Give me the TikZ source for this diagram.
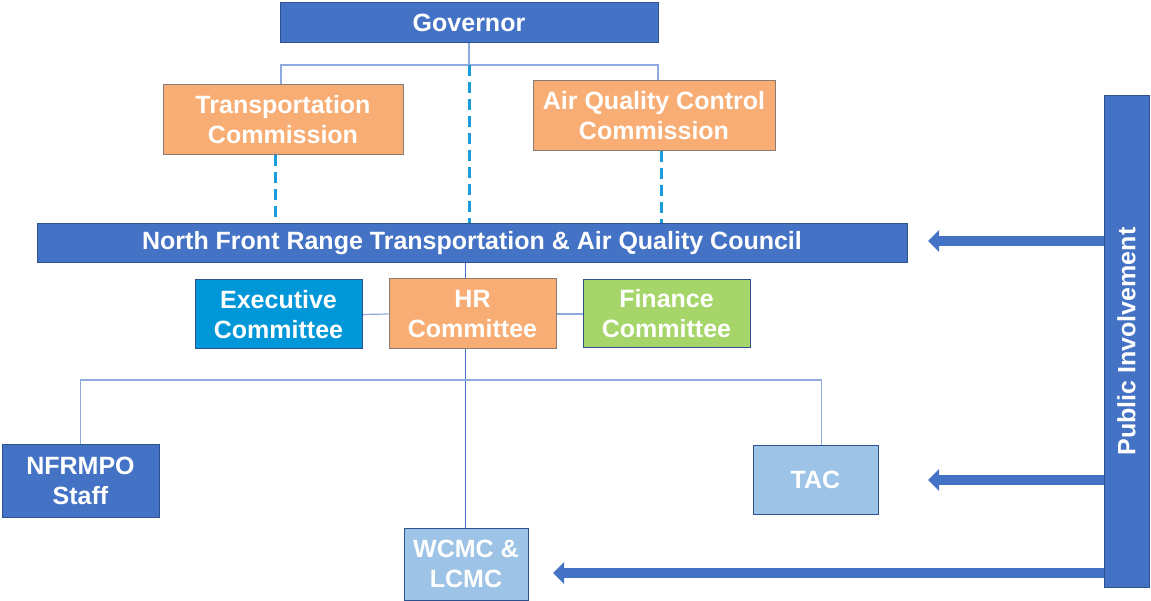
\documentclass[tikz,border=0pt]{standalone}
\usepackage{fontspec}
\setmainfont{Liberation Sans}
\usetikzlibrary{arrows.meta,positioning,calc,backgrounds}

\definecolor{darkblue}{HTML}{4472C4}
\definecolor{darkedge}{HTML}{2F528F}
\definecolor{orangefill}{HTML}{F8AD74}
\definecolor{orangeedge}{HTML}{8C7B70}
\definecolor{execblue}{HTML}{0097D8}
\definecolor{greenfill}{HTML}{A6D66A}
\definecolor{lightblue}{HTML}{9DC3E6}
\definecolor{dashblue}{HTML}{1A9CDB}
\definecolor{linkblue}{HTML}{8FAADC}

\begin{document}
\begin{tikzpicture}[
    x=1pt, y=-1pt,
    box/.style={rectangle, draw=darkedge, line width=1pt, text=white, align=center, inner sep=0pt,
        font=\fontsize{25}{30}\selectfont\bfseries},
    bluebox/.style={box, fill=darkblue},
    orangebox/.style={box, fill=orangefill, draw=orangeedge},
    link/.style={draw=linkblue, line width=1.2pt},
    dashlink/.style={draw=dashblue, line width=3pt, dash pattern=on 11pt off 6pt},
    pilarrow/.style={draw=darkblue, line width=10pt, -{Triangle[width=21pt,length=11pt]}},
]
    \useasboundingbox (0,0) rectangle (1151,601);

    % top level
    \node[bluebox, minimum width=378pt, minimum height=40pt] (gov) at (469,23) {Governor};
    \node[orangebox, minimum width=240pt, minimum height=70pt] (tc) at (283,120) {Transportation\\Commission};
    \node[orangebox, minimum width=242pt, minimum height=70pt] (aqcc) at (654,116) {Air Quality Control\\Commission};
    \node[bluebox, minimum width=870pt, minimum height=39pt] (council) at (472,243.5) {North Front Range Transportation \& Air Quality Council};

    % committees
    \node[box, fill=execblue, minimum width=167pt, minimum height=69pt] (exec) at (278.5,314.5) {Executive\\Committee};
    \node[orangebox, minimum width=167pt, minimum height=70pt] (hr) at (472.5,314) {HR\\Committee};
    \node[box, fill=greenfill, minimum width=167pt, minimum height=68pt] (fin) at (666.5,314) {Finance\\Committee};

    % bottom level
    \node[bluebox, minimum width=157pt, minimum height=73pt] (staff) at (80.5,480.5) {NFRMPO\\Staff};
    \node[box, fill=lightblue, minimum width=125pt, minimum height=69pt] (tac) at (815.5,479.5) {TAC};
    \node[box, fill=lightblue, minimum width=124pt, minimum height=72pt] (wcmc) at (466,564) {WCMC \&\\LCMC};
    \node[bluebox, rotate=90, minimum width=491pt, minimum height=45pt] (pub) at (1126.5,341.5) {Public Involvement};

    \coordinate (jtop) at (469,65);
    \coordinate (jmid) at (465,380);
    \coordinate (tip1) at (928,241);
    \coordinate (tip2) at (928,480);
    \coordinate (tip3) at (553,573);

    \begin{scope}[on background layer]
        \draw[link] (gov.south) -- (jtop);
        \draw[link] (jtop) -| ([xshift=-2pt]tc.north);
        \draw[link] (jtop) -| ([xshift=4pt]aqcc.north);
        \draw[dashlink] (jtop) -- (jtop |- council.north);
        \draw[dashlink] ([xshift=-8pt]tc.south) -- ([xshift=-8pt]tc.south |- council.north);
        \draw[dashlink] ([xshift=7pt]aqcc.south) -- ([xshift=7pt]aqcc.south |- council.north);
        \draw[draw=darkblue, line width=0.8pt] (jmid |- council.south) -- (jmid |- wcmc.north);
        \draw[link] (exec.east) -- (hr.west);
        \draw[link] (hr.east) -- (fin.west);
        \draw[link] (jmid) -| (staff.north);
        \draw[link] (jmid) -| ([xshift=6pt]tac.north);
    \end{scope}

    % public involvement arrows
    \draw[pilarrow] (pub.north |- tip1) -- (tip1);
    \draw[pilarrow] (pub.north |- tip2) -- (tip2);
    \draw[pilarrow] (pub.north |- tip3) -- (tip3);
\end{tikzpicture}
\end{document}
